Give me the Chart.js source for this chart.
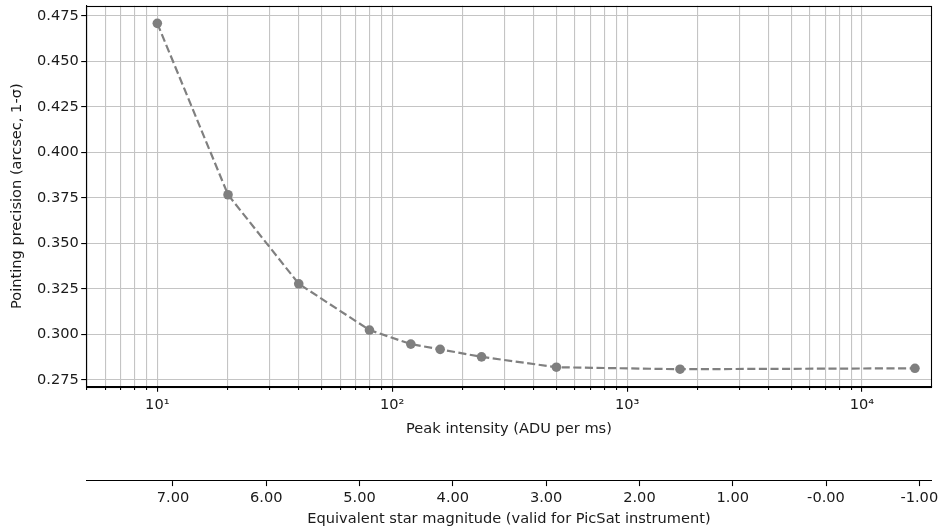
<!DOCTYPE html>
<html>
<head>
<meta charset="utf-8">
<script src="https://cdn.jsdelivr.net/npm/chart.js@4.4.0/dist/chart.umd.min.js"></script>
<style>
  html, body { margin: 0; padding: 0; background: #ffffff; }
  #wrap { width: 938px; height: 530px; position: relative; }
  canvas { display: block; }
</style>
</head>
<body>
<div id="wrap"><canvas id="c" width="938" height="530"></canvas></div>
<script>
// ---- data ----
const intensity = [10, 20, 40, 80, 120, 160, 240, 500, 1680, 16800];
const precision = [0.4708, 0.3767, 0.3278, 0.3024, 0.2947, 0.2918, 0.2877, 0.2820, 0.2809, 0.2814];

// ---- ticks ----
const xMajorTicks = [10, 100, 1000, 10000];
const xMajorLabels = ['10\u00B9', '10\u00B2', '10\u00B3', '10\u2074'];
const xMinorMultipliers = [2, 3, 4, 5, 6, 7, 8, 9];
const yTicks = [0.275, 0.300, 0.325, 0.350, 0.375, 0.400, 0.425, 0.450, 0.475];
const magTicks = [7, 6, 5, 4, 3, 2, 1, 0, -1];
const magTickLabels = ['7.00', '6.00', '5.00', '4.00', '3.00', '2.00', '1.00', '-0.00', '-1.00'];

// ---- axis limits ----
const xLimits = [4.985, 19800];
const yLimits = [0.2713, 0.4805];
const magLimits = [-1.133, 7.929];

const FONT = 'DejaVu Sans';
const FS = 14.6;
const TXT = '#1a1a1a';
const GRID = '#c4c4c4';
const MAJOR_LEN = 5.1;
const MINOR_LEN = 2.9;

const allXTicks = [];
[1, 10, 100, 1000, 10000].forEach(d => {
  allXTicks.push(d);
  xMinorMultipliers.forEach(m => allXTicks.push(m * d));
});

function noPad(scale) {
  scale.paddingTop = 0; scale.paddingBottom = 0;
  scale.paddingLeft = 0; scale.paddingRight = 0;
}

const framePlugin = {
  id: 'frame',
  afterDatasetsDraw(chart) {
    const { ctx, chartArea: a } = chart;
    ctx.save();
    ctx.strokeStyle = '#000';
    ctx.lineWidth = 1.1;
    ctx.strokeRect(Math.round(a.left) + 0.5, Math.round(a.top) + 0.5,
                   Math.round(a.right - a.left), Math.round(a.bottom - a.top));
    ctx.restore();
  }
};

new Chart(document.getElementById('c'), {
  type: 'line',
  data: {
    datasets: [{
      data: intensity.map((x, i) => ({ x: x, y: precision[i] })),
      borderColor: '#808080',
      backgroundColor: '#808080',
      borderWidth: 2.2,
      borderDash: [8.1, 3.5],
      pointRadius: 4.8,
      pointBorderWidth: 0,
      pointBackgroundColor: '#7f7f7f',
      tension: 0,
      fill: false
    }]
  },
  plugins: [framePlugin],
  options: {
    responsive: false,
    animation: false,
    devicePixelRatio: 1,
    layout: { padding: { top: 5.7, right: 6.3, left: 0, bottom: 0 } },
    plugins: { legend: { display: false }, tooltip: { enabled: false } },
    scales: {
      x: {
        type: 'logarithmic',
        position: 'bottom',
        weight: 0,
        min: xLimits[0],
        max: xLimits[1],
        afterBuildTicks(scale) {
          scale.ticks = allXTicks
            .filter(v => v >= scale.min && v <= scale.max)
            .map(v => ({ value: v, major: xMajorTicks.includes(v) }));
        },
        afterFit(scale) { scale.height = 94.3; noPad(scale); },
        ticks: {
          autoSkip: false,
          maxRotation: 0,
          padding: 4.4,
          color: TXT,
          font: { family: FONT, size: FS },
          callback(value) {
            const i = xMajorTicks.indexOf(value);
            return i >= 0 ? xMajorLabels[i] : '';
          }
        },
        grid: {
          color: GRID, lineWidth: 1.1, tickColor: '#000', tickWidth: 1.1,
          tickLength: MAJOR_LEN, drawTicks: true,
          tickBorderDash(ctx) {
            const v = ctx.tick ? ctx.tick.value : null;
            return (v !== null && !xMajorTicks.includes(v)) ? [MINOR_LEN, 20] : [];
          }
        },
        border: { color: '#000', width: 1.1 },
        title: {
          display: true,
          text: 'Peak intensity (ADU per ms)',
          color: TXT,
          font: { family: FONT, size: FS, lineHeight: 1.2 },
          padding: { top: 4, bottom: 43.3 }
        }
      },
      mag: {
        type: 'linear',
        axis: 'x',
        position: 'bottom',
        weight: 1,
        reverse: true,
        min: magLimits[0],
        max: magLimits[1],
        afterBuildTicks(scale) {
          scale.ticks = magTicks.map(v => ({ value: v }));
        },
        afterFit(scale) { scale.height = 49; noPad(scale); },
        ticks: {
          autoSkip: false,
          maxRotation: 0,
          padding: 3.4,
          color: TXT,
          font: { family: FONT, size: FS },
          callback(value) {
            const i = magTicks.indexOf(value);
            return i >= 0 ? magTickLabels[i] : '';
          }
        },
        grid: { drawOnChartArea: false, color: '#000', tickColor: '#000', tickWidth: 1.1, tickLength: MAJOR_LEN, drawTicks: true },
        border: { color: '#000', width: 1.1 },
        title: {
          display: true,
          text: 'Equivalent star magnitude (valid for PicSat instrument)',
          color: TXT,
          font: { family: FONT, size: FS, lineHeight: 1.2 },
          padding: { top: 2, bottom: 2.5 }
        }
      },
      y: {
        type: 'linear',
        position: 'left',
        min: yLimits[0],
        max: yLimits[1],
        afterBuildTicks(scale) {
          scale.ticks = yTicks.map(v => ({ value: v }));
        },
        afterFit(scale) { scale.width = 86.3; noPad(scale); },
        ticks: {
          autoSkip: false,
          padding: 2.4,
          color: TXT,
          font: { family: FONT, size: FS },
          callback(value) { return Number(value).toFixed(3); }
        },
        grid: { color: GRID, lineWidth: 1.1, tickColor: '#000', tickWidth: 1.1, tickLength: MAJOR_LEN, drawTicks: true },
        border: { color: '#000', width: 1.1 },
        title: {
          display: true,
          text: 'Pointing precision (arcsec, 1-\u03C3)',
          color: TXT,
          font: { family: FONT, size: FS, lineHeight: 1.2 },
          padding: { top: 8.2, bottom: 2 }
        }
      }
    }
  }
});
</script>
</body>
</html>
